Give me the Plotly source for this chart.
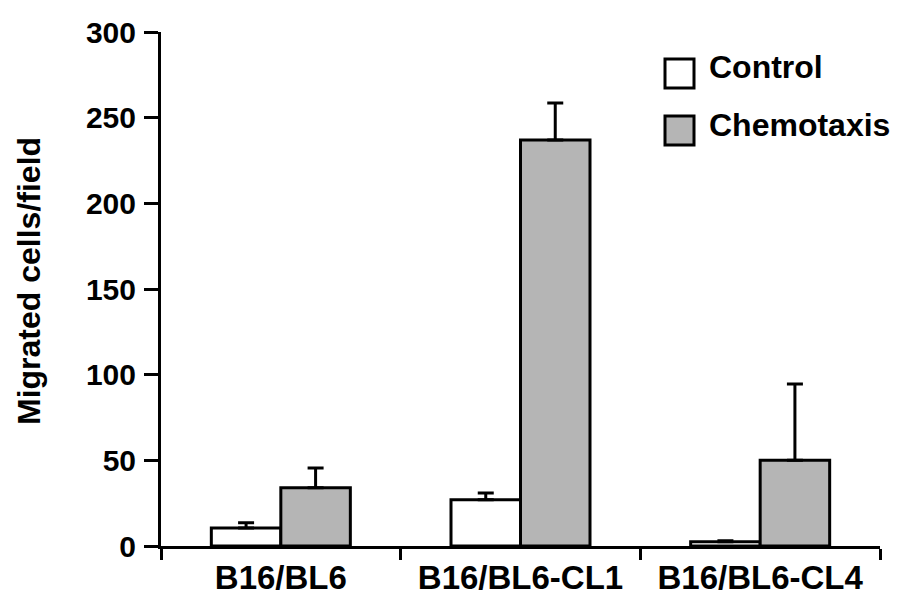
import plotly.graph_objects as go

categories = ["B16/BL6", "B16/BL6-CL1", "B16/BL6-CL4"]
control = [10.5, 27, 2.5]
control_err = [3, 4, 0.5]
chemotaxis = [34, 237, 50]
chemotaxis_err = [11.5, 21.5, 44.5]
y_ticks = [0, 50, 100, 150, 200, 250, 300]
legend_labels = ["Control", "Chemotaxis"]
y_title = "Migrated cells/field"

FONT = "Liberation Sans, Arial, Helvetica, sans-serif"
GRAY = "#b5b5b5"

fig = go.Figure()
fig.add_trace(go.Bar(
    x=categories, y=control, name=legend_labels[0],
    marker=dict(color="white", line=dict(color="black", width=3)),
    error_y=dict(type="data", array=control_err, arrayminus=[0]*3, symmetric=False,
                 color="black", thickness=3, width=8),
    showlegend=False,
))
fig.add_trace(go.Bar(
    x=categories, y=chemotaxis, name=legend_labels[1],
    marker=dict(color=GRAY, line=dict(color="black", width=3)),
    error_y=dict(type="data", array=chemotaxis_err, arrayminus=[0]*3, symmetric=False,
                 color="black", thickness=3, width=8),
    showlegend=False,
))

# page is offset by the 8px body margin
OFF = 8
W, H = 904, 594
L, T = 161 - OFF, 32 - OFF
pw, ph = 880 - 161, 546 - 32
R = W - L - pw
B = H - T - ph

def px(x):
    return (x - OFF - L) / pw
def py(y):
    return (T + ph - (y - OFF)) / ph

# manual legend
legend_boxes = [(665, 59, 694, 88, "white"), (665, 116, 694, 145, GRAY)]
for (x0, y0, x1, y1, col), lab in zip(legend_boxes, legend_labels):
    fig.add_shape(type="rect", xref="paper", yref="paper",
                  x0=px(x0), x1=px(x1), y0=py(y1), y1=py(y0),
                  fillcolor=col, line=dict(color="black", width=3))
    fig.add_annotation(xref="paper", yref="paper", x=px(707), y=py((y0 + y1) / 2 - 6),
                       text=lab, showarrow=False, xanchor="left", yanchor="middle",
                       font=dict(family=FONT, size=32, color="black", weight="bold"))

# y-axis title
fig.add_annotation(xref="paper", yref="paper", x=px(29), y=py(281),
                   text=y_title, showarrow=False, textangle=-90,
                   xanchor="center", yanchor="middle",
                   font=dict(family=FONT, size=32, color="black", weight="bold"))

fig.update_layout(
    width=W, height=H,
    margin=dict(l=L, r=R, t=T, b=B, autoexpand=False),
    paper_bgcolor="white", plot_bgcolor="white",
    barmode="group", bargap=0.42, bargroupgap=0,
    font=dict(family=FONT, color="black"),
)
fig.update_xaxes(
    showline=True, linecolor="black", linewidth=3,
    ticks="outside", tickson="boundaries", ticklen=11, tickwidth=3, tickcolor="black",
    tickfont=dict(family=FONT, size=33, color="black", weight="bold"),
    showgrid=False, zeroline=False,
)
fig.update_yaxes(
    range=[0, 300], tickvals=y_ticks,
    showline=True, linecolor="black", linewidth=3,
    ticks="outside", ticklen=14, tickwidth=3, tickcolor="black",
    ticklabelstandoff=2,
    tickfont=dict(family=FONT, size=30, color="black", weight="bold"),
    showgrid=False, zeroline=False,
)

fig.write_html("out.html")
